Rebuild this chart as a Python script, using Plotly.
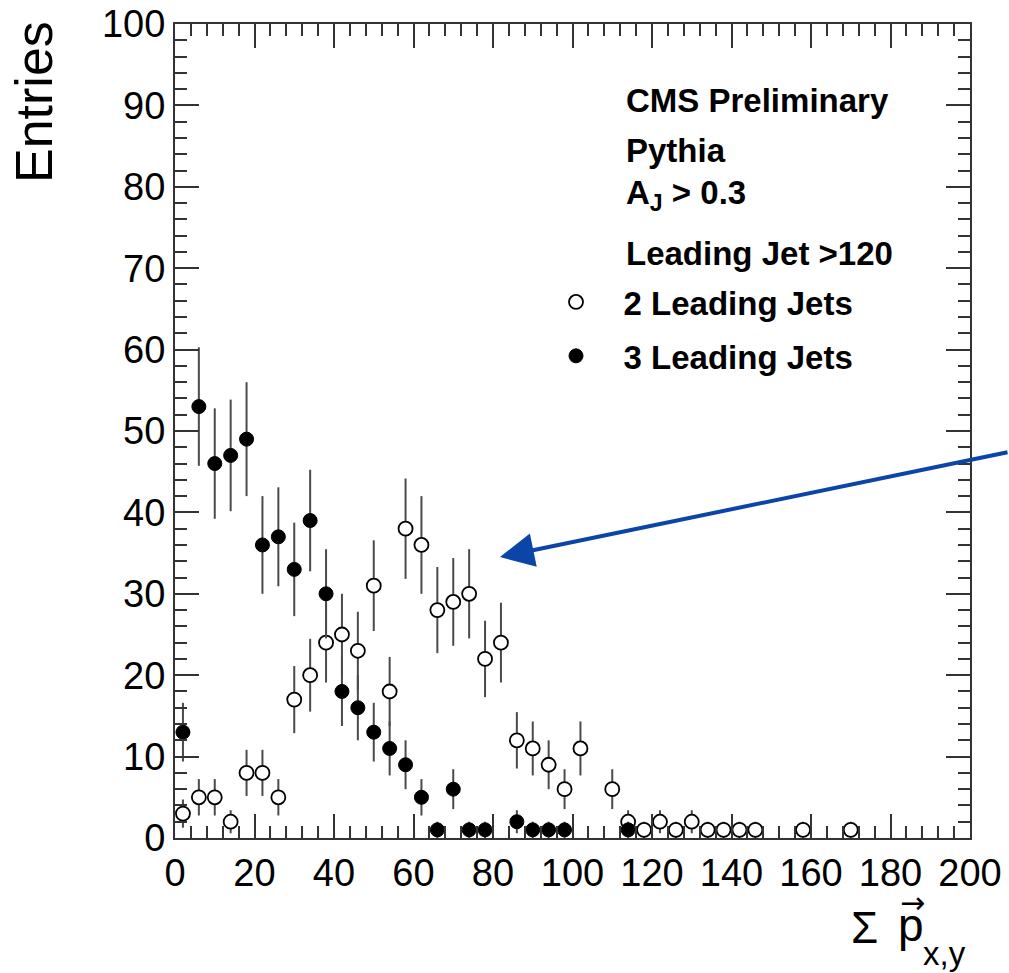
import numpy as np
import plotly.graph_objects as go

# 2 Leading Jets (open markers)
x_two = [2, 6, 10, 14, 18, 22, 26, 30, 34, 38, 42, 46, 50, 54, 58, 62, 66, 70, 74, 78, 82,
         86, 90, 94, 98, 102, 110, 114, 118, 122, 126, 130, 134, 138, 142, 146, 158, 170]
y_two = [3, 5, 5, 2, 8, 8, 5, 17, 20, 24, 25, 23, 31, 18, 38, 36, 28, 29, 30, 22, 24,
         12, 11, 9, 6, 11, 6, 2, 1, 2, 1, 2, 1, 1, 1, 1, 1, 1]

# 3 Leading Jets (filled markers)
x_three = [2, 6, 10, 14, 18, 22, 26, 30, 34, 38, 42, 46, 50, 54, 58, 62, 66, 70, 74, 78,
           86, 90, 94, 98, 114]
y_three = [13, 53, 46, 47, 49, 36, 37, 33, 39, 30, 18, 16, 13, 11, 9, 5, 1, 6, 1, 1,
           2, 1, 1, 1, 1]

header_lines = ["CMS Preliminary", "Pythia", "A<sub>J</sub> > 0.3", "Leading Jet >120"]

FONT = "Liberation Sans, Arial, Helvetica, sans-serif"
W, H = 1009, 973
L, R, T, B = 175, 39, 24, 135

fig = go.Figure()
err_col = "#4a4a4a"
pad = "&nbsp;&nbsp;&nbsp;"
fig.add_trace(go.Scatter(
    x=x_two, y=y_two, mode="markers", name=pad + "<b>2 Leading Jets</b>",
    legendgroup="a",
    marker=dict(symbol="circle", size=14, color="white", line=dict(color="black", width=1.8)),
    error_y=dict(type="data", array=np.sqrt(y_two), color=err_col, thickness=2, width=0),
))
fig.add_trace(go.Scatter(
    x=x_three, y=y_three, mode="markers", name=pad + "<b>3 Leading Jets</b>",
    legendgroup="b",
    marker=dict(symbol="circle", size=14, color="black", line=dict(color="black", width=1)),
    error_y=dict(type="data", array=np.sqrt(y_three), color=err_col, thickness=2, width=0),
))

axis_common = dict(
    showgrid=False, zeroline=False, showline=True, linecolor="#333", linewidth=2,
    mirror="ticks", ticks="inside", tickcolor="#333", tickwidth=1.5, automargin=False,
    tickfont=dict(family=FONT, size=38, color="black"),
)
fig.update_xaxes(range=[0, 200], dtick=20, tick0=0, ticklen=24,
                 minor=dict(ticks="inside", ticklen=12, dtick=4, tickcolor="#333", tickwidth=1.5),
                 **axis_common)
fig.update_yaxes(range=[0, 100], dtick=10, tick0=0, ticklen=24,
                 minor=dict(ticks="inside", ticklen=12, dtick=2, tickcolor="#333", tickwidth=1.5),
                 **axis_common)

pw = W - L - R
ph = H - T - B
def px(xp):
    return (xp - L) / pw
def py(yp):
    return (H - B - yp) / ph

ann = []
ann.append(dict(text="Entries", textangle=-90, xref="paper", yref="paper",
                x=px(34), y=py(102), xanchor="center", yanchor="middle", showarrow=False,
                font=dict(family=FONT, size=52, color="black")))
# x-axis title pieces: Σ, p, arrow, subscript
ann.append(dict(text="Σ", xref="paper", yref="paper",
                x=px(849), y=py(927), xanchor="left", yanchor="middle", showarrow=False,
                font=dict(family=FONT, size=44, color="black")))
ann.append(dict(text="p", xref="paper", yref="paper",
                x=px(896), y=py(925), xanchor="left", yanchor="middle", showarrow=False,
                font=dict(family=FONT, size=46, color="black")))
ann.append(dict(text="→", xref="paper", yref="paper",
                x=px(912), y=py(902), xanchor="center", yanchor="middle", showarrow=False,
                font=dict(family="DejaVu Sans", size=30, color="black")))
ann.append(dict(text="x,y", xref="paper", yref="paper",
                x=px(921), y=py(953), xanchor="left", yanchor="middle", showarrow=False,
                font=dict(family=FONT, size=33, color="black")))
ys = [100, 150, 195, 253]
for t, yy in zip(header_lines, ys):
    ann.append(dict(text="<b>" + t + "</b>", xref="paper", yref="paper",
                    x=px(624), y=py(yy), xanchor="left", yanchor="middle", showarrow=False,
                    font=dict(family=FONT, size=33, color="black")))
# blue arrow
ann.append(dict(text="", xref="paper", yref="paper", x=px(500), y=py(557),
                ax=512, ay=-105, showarrow=True, arrowhead=2, arrowsize=1.7,
                arrowwidth=4, arrowcolor="#0b45a8"))

fig.update_layout(
    width=W, height=H, margin=dict(l=L, r=R, t=T, b=B),
    paper_bgcolor="white", plot_bgcolor="white",
    annotations=ann,
    legend=dict(x=px(556), y=py(274), xanchor="left", yanchor="top",
                font=dict(family=FONT, size=33, color="black"),
                bgcolor="rgba(0,0,0,0)", tracegroupgap=8, traceorder="grouped"),
    showlegend=True,
)
fig.write_html("out.html")
